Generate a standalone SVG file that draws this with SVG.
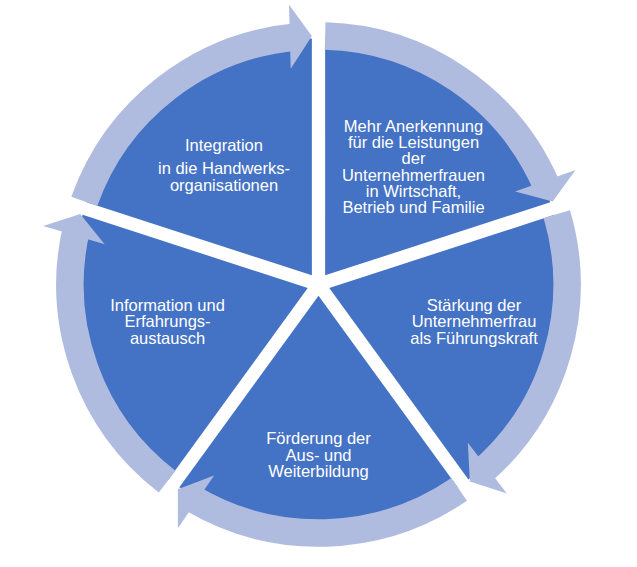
<svg xmlns="http://www.w3.org/2000/svg" width="637" height="567" viewBox="0 0 637 567">
<style>
.seg{fill:#4472C4}
.shaft{fill:none;stroke:#B0BCDF;stroke-width:27.5;stroke-linecap:butt}
.head{fill:#B0BCDF}
.lbl{font-family:"Liberation Sans",Arial,sans-serif;font-size:16.5px;fill:#FFFFFF;text-anchor:middle}
</style>
<rect width="637" height="567" fill="#FFFFFF"/>
<g id="node-anerkennung">
<path class="seg" d="M325.15 275.35 L325.15 38.59 A246 246 0 0 1 550.31 202.18 Z"/>
<text class="lbl" x="413.5" y="131.7">Mehr Anerkennung</text>
<text class="lbl" x="413.5" y="148">für die Leistungen</text>
<text class="lbl" x="413.5" y="164.3">der</text>
<text class="lbl" x="413.5" y="180.6">Unternehmerfrauen</text>
<text class="lbl" x="413.5" y="196.9">in Wirtschaft,</text>
<text class="lbl" x="413.5" y="213.2">Betrieb und Familie</text>
</g>
<g id="node-staerkung">
<path class="seg" d="M329.26 287.99 L554.43 214.84 A246 246 0 0 1 468.42 479.54 Z"/>
<text class="lbl" x="474" y="310.7">Stärkung der</text>
<text class="lbl" x="474" y="327">Unternehmerfrau</text>
<text class="lbl" x="474" y="343.5">als Führungskraft</text>
</g>
<g id="node-foerderung">
<path class="seg" d="M318.5 295.81 L457.66 487.36 A246 246 0 0 1 179.34 487.36 Z"/>
<text class="lbl" x="318.5" y="444">Förderung der</text>
<text class="lbl" x="318.5" y="460.5">Aus- und</text>
<text class="lbl" x="318.5" y="477">Weiterbildung</text>
</g>
<g id="node-information">
<path class="seg" d="M307.74 287.99 L168.58 479.54 A246 246 0 0 1 82.57 214.84 Z"/>
<text class="lbl" x="167.5" y="310.7">Information und</text>
<text class="lbl" x="167.5" y="327">Erfahrungs-</text>
<text class="lbl" x="167.5" y="343.5">austausch</text>
</g>
<g id="node-integration">
<path class="seg" d="M311.85 275.35 L86.69 202.19 A246 246 0 0 1 311.85 38.59 Z"/>
<text class="lbl" x="224" y="151">Integration</text>
<text class="lbl" x="224" y="174.3">in die Handwerks-</text>
<text class="lbl" x="224" y="191">organisationen</text>
</g>
<g id="connectors">
<path class="shaft" d="M325.13 36.09 A248.5 248.5 0 0 1 547.08 187.00"/>
<polygon class="head" points="552.70,201.43 575.51,170.00 515.19,191.40"/>
<path class="shaft" d="M556.80 214.05 A248.5 248.5 0 0 1 481.86 471.76"/>
<polygon class="head" points="469.88,481.57 506.82,493.55 467.84,442.79"/>
<path class="shaft" d="M459.15 489.37 A248.5 248.5 0 0 1 190.90 497.74"/>
<polygon class="head" points="177.85,489.37 177.88,528.20 214.10,475.44"/>
<path class="shaft" d="M167.12 481.57 A248.5 248.5 0 0 1 76.27 229.02"/>
<polygon class="head" points="80.20,214.05 43.27,226.08 104.65,244.22"/>
<path class="shaft" d="M84.30 201.43 A248.5 248.5 0 0 1 296.41 36.98"/>
<polygon class="head" points="311.87,36.09 289.03,4.69 290.73,68.67"/>
</g>
</svg>
